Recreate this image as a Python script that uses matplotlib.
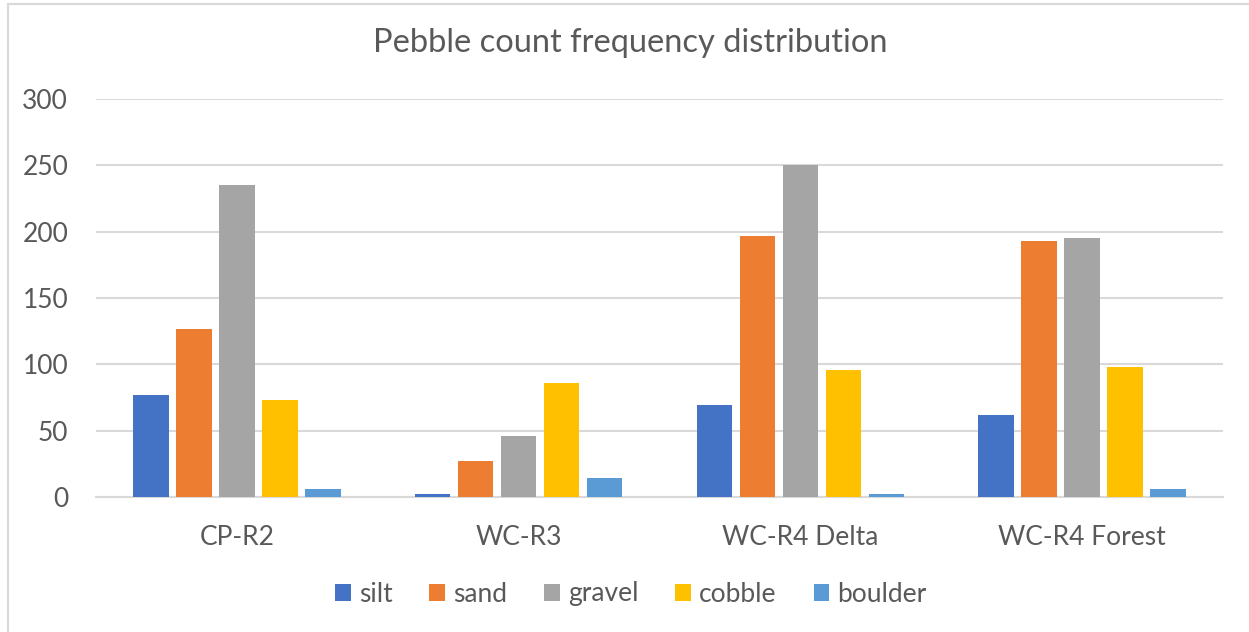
import numpy as np
import matplotlib.pyplot as plt
from matplotlib.patches import Rectangle

plt.rcParams['font.family'] = ['Lato', 'DejaVu Sans']

# pebble counts per site
sites = ['CP-R2', 'WC-R3', 'WC-R4 Delta', 'WC-R4 Forest']
classes = ['silt', 'sand', 'gravel', 'cobble', 'boulder']
silt = [77, 2, 69, 62]
sand = [127, 27, 197, 193]
gravel = [235, 46, 250, 195]
cobble = [73, 86, 96, 98]
boulder = [6, 14, 2, 6]
colors = ['#4472C4', '#ED7D31', '#A5A5A5', '#FFC000', '#5B9BD5']
yticks = [0, 50, 100, 150, 200, 250, 300]

txt = '#595959'
grid = '#D9D9D9'

fig = plt.figure(figsize=(12.49, 6.32), dpi=100)
ax = fig.add_axes([96/1249, 1-497/632, (1223-96)/1249, (497-99)/632])

x = np.arange(len(sites))
step = 0.1527
width = 0.1265
series = [silt, sand, gravel, cobble, boulder]
for i, (vals, name) in enumerate(zip(series, classes)):
    ax.bar(x + (i-2)*step, vals, width, color=colors[i], label=name, zorder=3)

ax.set_xlim(-0.5, len(sites)-0.5)
ax.set_ylim(0, 300)
ax.set_yticks(yticks)
ax.set_xticks(x)
ax.set_xticklabels(sites)
ax.yaxis.grid(True, color=grid, lw=1.5, zorder=0)
for s in ['top', 'right', 'left']:
    ax.spines[s].set_visible(False)
ax.spines['bottom'].set_color(grid)
ax.spines['bottom'].set_linewidth(1.5)
ax.tick_params(length=0, labelsize=19, colors=txt)
ax.tick_params(axis='x', pad=20)
ax.tick_params(axis='y', pad=20)

fig.text(0.505, 1-43/632, 'Pebble count frequency distribution',
         ha='center', va='center', fontsize=23.5, color=txt)

fig.legend(loc='center', bbox_to_anchor=(0.505, 1-594/632), ncol=5,
           frameon=False, fontsize=19, labelcolor=txt,
           handlelength=0.6, handleheight=0.6, handletextpad=0.3,
           columnspacing=1.4)

# chart frame
fig.patches.append(Rectangle((8/1249, -0.1), 1.2, 1-4/632+0.1,
                             transform=fig.transFigure, fill=False,
                             edgecolor='#D9D9D9', lw=1.5))

fig.savefig('out.png', dpi=100)
